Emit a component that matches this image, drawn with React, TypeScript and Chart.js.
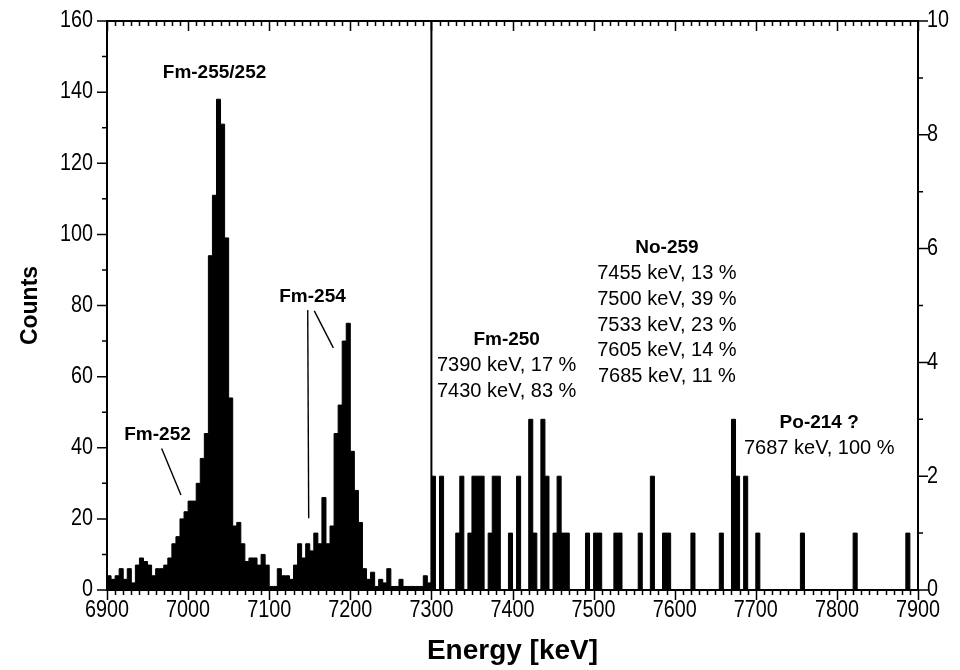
import React, { useEffect, useRef } from 'react';
import { Chart, registerables } from 'chart.js';

Chart.register(...registerables);

// ---------- data ----------
const BIN_WIDTH = 5; // keV
const LEFT_START = 6900;
const SPLIT = 7300;
const RIGHT_END = 7900;

// counts per 5 keV bin, 6900 .. 7300 keV (left axis, 0-160)
const leftCounts = [
  4, 3, 4, 6, 3, 6, 2, 7, 9, 8,
  7, 4, 6, 6, 7, 9, 13, 15, 20, 22,
  25, 25, 30, 37, 44, 94, 111, 138, 131, 99,
  54, 18, 19, 13, 8, 9, 9, 7, 10, 7,
  1, 1, 6, 4, 4, 3, 7, 13, 9, 13,
  11, 16, 13, 26, 13, 18, 44, 52, 70, 75,
  39, 28, 19, 6, 3, 5, 1, 3, 2, 6,
  1, 1, 3, 1, 1, 1, 1, 1, 4, 2,
];

// occupied 5 keV bins, 7300 .. 7900 keV (right axis, 0-10)
const rightBinStarts = [
  7300, 7310, 7330, 7335, 7345, 7350, 7355, 7360, 7370, 7375,
  7380, 7395, 7405, 7420, 7425, 7435, 7440, 7450, 7455, 7460,
  7465, 7490, 7500, 7505, 7525, 7530, 7555, 7570, 7585, 7590,
  7620, 7655, 7670, 7675, 7685, 7700, 7755, 7820, 7885,
];
const rightCounts = [
  2, 2, 1, 2, 1, 2, 2, 2, 1, 2,
  2, 1, 2, 3, 1, 3, 2, 1, 2, 1,
  1, 1, 1, 1, 1, 1, 1, 2, 1, 1,
  1, 1, 3, 2, 2, 1, 1, 1, 1,
];

const X_MIN = 6900, X_MAX = 7900, X_STEP = 100, X_MINOR = 10;
const YL_MAX = 160, YL_STEP = 20, YL_MINOR = 10;
const YR_MAX = 10, YR_STEP = 2, YR_MINOR = 1;

// annotation texts (anchor in energy / left-axis counts)
const labelTitles = ['Fm-255/252', 'Fm-252', 'Fm-254', 'Fm-250', 'No-259', 'Po-214 ?'];
const labelLines = [
  [],
  [],
  [],
  ['7390 keV, 17 %', '7430 keV, 83 %'],
  ['7455 keV, 13 %', '7500 keV, 39 %', '7533 keV, 23 %', '7605 keV, 14 %', '7685 keV, 11 %'],
  ['7687 keV, 100 %'],
];
const labelAnchors = [
  [7032.6, 145.4],
  [6962.3, 43.6],
  [7153.4, 82.4],
  [7392.8, 70.3],
  [7590.4, 96.2],
  [7778.2, 47.0],
];
const leaderLines = [
  [[6967.4, 39.8], [6991.2, 26.7]],
  [[7147.5, 78.7], [7148.7, 20.2]],
  [[7155.6, 78.5], [7179.1, 68.1]],
];

// ---------- styling ----------
const TEXT_FONT = 'Arial, "Liberation Sans", Helvetica, sans-serif';
const TICK_FONT_SIZE = 23;
const TICK_SQUEEZE = 0.86;
const LINE_GAP = 25.7;

// ---------- build histograms ----------
const leftHist = leftCounts.map((c, i) => ({ x: LEFT_START + i * BIN_WIDTH, y: c }));
leftHist.push({ x: SPLIT, y: leftCounts[leftCounts.length - 1] });

const rightFull: number[] = new Array((RIGHT_END - SPLIT) / BIN_WIDTH).fill(0);
rightBinStarts.forEach((e, i) => {
  rightFull[(e - SPLIT) / BIN_WIDTH] = rightCounts[i];
});
const rightHist = rightFull.map((c, i) => ({ x: SPLIT + i * BIN_WIDTH, y: c }));
rightHist.push({ x: RIGHT_END, y: 0 });

function squeezedText(ctx: CanvasRenderingContext2D, text: string, x: number, y: number, align: CanvasTextAlign) {
  ctx.save();
  ctx.translate(x, y);
  ctx.scale(TICK_SQUEEZE, 1);
  ctx.textAlign = align;
  ctx.fillText(text, 0, 0);
  ctx.restore();
}

const framePlugin = {
  id: 'frameTicks',
  afterDatasetsDraw(chart: any) {
    const { ctx, chartArea } = chart;
    const { left, right, top, bottom } = chartArea;
    const x = chart.scales.x, y = chart.scales.y, y2 = chart.scales.y2;
    ctx.save();
    ctx.strokeStyle = '#000';
    ctx.lineWidth = 2;
    ctx.strokeRect(left, top, right - left, bottom - top);
    ctx.lineWidth = 1.5;
    ctx.beginPath();
    for (let v = X_MIN; v <= X_MAX; v += X_MINOR) {
      const px = Math.round(x.getPixelForValue(v)) + 0.5;
      const len = v % X_STEP === 0 ? 10 : 5;
      ctx.moveTo(px, bottom);
      ctx.lineTo(px, bottom + len);
      ctx.moveTo(px, top);
      ctx.lineTo(px, top + len);
    }
    for (let v = 0; v <= YL_MAX; v += YL_MINOR) {
      const py = y.getPixelForValue(v);
      const len = v % YL_STEP === 0 ? 10 : 5;
      ctx.moveTo(left, py);
      ctx.lineTo(left - len, py);
    }
    for (let v = 0; v <= YR_MAX; v += YR_MINOR) {
      const py = y2.getPixelForValue(v);
      const len = v % YR_STEP === 0 ? 10 : 5;
      ctx.moveTo(right, py);
      ctx.lineTo(right + len, py);
    }
    ctx.stroke();

    // tick labels (condensed, from the library's own ticks)
    ctx.fillStyle = '#000';
    ctx.textBaseline = 'middle';
    ctx.font = TICK_FONT_SIZE + 'px ' + TEXT_FONT;
    x.ticks.forEach((t: any) => {
      squeezedText(ctx, String(t.value), x.getPixelForValue(t.value), bottom + 21, 'center');
    });
    y.ticks.forEach((t: any) => {
      squeezedText(ctx, String(t.value), left - 14, y.getPixelForValue(t.value), 'right');
    });
    y2.ticks.forEach((t: any) => {
      squeezedText(ctx, String(t.value), right + 9, y2.getPixelForValue(t.value), 'left');
    });

    // annotation texts
    ctx.textAlign = 'center';
    labelTitles.forEach((title, i) => {
      const px = x.getPixelForValue(labelAnchors[i][0]);
      const py = y.getPixelForValue(labelAnchors[i][1]);
      ctx.font = 'bold 19px ' + TEXT_FONT;
      ctx.fillText(title, px, py);
      ctx.font = '20px ' + TEXT_FONT;
      labelLines[i].forEach((t, j) => ctx.fillText(t, px, py + (j + 1) * LINE_GAP));
    });
    ctx.restore();
  },
};

function noPad(s: any) {
  s.paddingTop = 0;
  s.paddingBottom = 0;
  s.paddingLeft = 0;
  s.paddingRight = 0;
}

export default function App() {
  const ref = useRef<HTMLCanvasElement>(null);
  useEffect(() => {
    Chart.defaults.color = '#000';
    const leaderSets = leaderLines.map((seg) => ({
      type: 'line' as const,
      data: seg.map((p) => ({ x: p[0], y: p[1] })),
      borderColor: '#000',
      borderWidth: 1.4,
      pointRadius: 0,
      fill: false,
      yAxisID: 'y',
    }));
    const chart = new Chart(ref.current as HTMLCanvasElement, {
      type: 'line',
      data: {
        datasets: [
          {
            data: leftHist,
            stepped: true,
            fill: 'origin',
            backgroundColor: '#000',
            borderColor: '#000',
            borderWidth: 1,
            pointRadius: 0,
            yAxisID: 'y',
          },
          {
            data: rightHist,
            stepped: true,
            fill: 'origin',
            backgroundColor: '#000',
            borderColor: '#000',
            borderWidth: 1,
            pointRadius: 0,
            yAxisID: 'y2',
          },
          {
            data: [{ x: SPLIT, y: 0 }, { x: SPLIT, y: YL_MAX }],
            borderColor: '#000',
            borderWidth: 2,
            pointRadius: 0,
            fill: false,
            yAxisID: 'y',
          },
          ...leaderSets,
        ] as any,
      },
      options: {
        responsive: false,
        devicePixelRatio: 1,
        animation: false,
        events: [],
        layout: { padding: { top: 21, left: 0, right: 0, bottom: 0 } },
        plugins: { legend: { display: false }, tooltip: { enabled: false } },
        scales: {
          x: {
            type: 'linear',
            min: X_MIN,
            max: X_MAX,
            grid: { display: false, drawTicks: false },
            border: { display: false },
            ticks: { stepSize: X_STEP, display: false },
            title: {
              display: true,
              text: 'Energy [keV]',
              color: '#000',
              font: { family: TEXT_FONT, size: 28, weight: 'bold' },
              padding: { top: 0, bottom: 2 },
            },
            afterFit: (s: any) => { s.height = 80; noPad(s); },
          },
          y: {
            type: 'linear',
            position: 'left',
            min: 0,
            max: YL_MAX,
            grid: { display: false, drawTicks: false },
            border: { display: false },
            ticks: { stepSize: YL_STEP, display: false },
            title: {
              display: true,
              text: 'Counts',
              color: '#000',
              font: { family: TEXT_FONT, size: 23, weight: 'bold' },
              padding: { top: 17, bottom: 0 },
            },
            afterFit: (s: any) => { s.width = 107; noPad(s); },
          },
          y2: {
            type: 'linear',
            position: 'right',
            min: 0,
            max: YR_MAX,
            grid: { display: false, drawTicks: false },
            border: { display: false },
            ticks: { stepSize: YR_STEP, display: false },
            afterFit: (s: any) => { s.width = 42; noPad(s); },
          },
        },
      } as any,
      plugins: [framePlugin],
    });
    return () => chart.destroy();
  }, []);
  return (
    <div style={{ position: 'fixed', left: 0, top: 0, width: 960, height: 670, background: '#fff' }}>
      <canvas ref={ref} width={960} height={670} style={{ width: 960, height: 670, display: 'block' }} />
    </div>
  );
}
